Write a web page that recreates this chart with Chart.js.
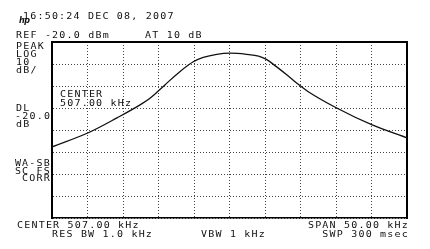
<!DOCTYPE html>
<html>
<head>
<meta charset="utf-8">
<script src="https://cdn.jsdelivr.net/npm/chart.js@4"></script>
<style>
  html, body { margin: 0; padding: 0; background: #fff; }
  #wrap { position: relative; width: 430px; height: 249px; overflow: hidden; }
  #wrap canvas { position: absolute; left: 0; top: 0; }
  .lbl {
    position: absolute; white-space: pre; color: #111;
    font-family: "DejaVu Sans Mono", monospace; font-size: 10px;
    line-height: 9px; letter-spacing: 1.2px;
    transform: scaleY(0.82); transform-origin: 0 0;
  }
  .r { text-align: right; transform-origin: 100% 0; }
  .hp { position: absolute; left: 19px; top: 16px; font: italic bold 8px "DejaVu Sans", sans-serif; color: #111; letter-spacing: -0.5px; }
</style>
</head>
<body>
<div id="wrap">
  <canvas id="sa" width="430" height="249"></canvas>
  <div class="lbl" style="left:23px;top:11.5px">16:50:24 DEC 08, 2007</div>
  <div class="hp">hp</div>
  <div class="lbl" style="left:16px;top:30.5px">REF -20.0 dBm</div>
  <div class="lbl" style="left:145px;top:30.5px">AT 10 dB</div>
  <div class="lbl" style="left:16px;top:41.5px">PEAK</div>
  <div class="lbl" style="left:16px;top:49.5px">LOG</div>
  <div class="lbl" style="left:16px;top:57.5px">10</div>
  <div class="lbl" style="left:16px;top:65.5px">dB/</div>
  <div class="lbl" style="left:60px;top:89.5px">CENTER</div>
  <div class="lbl" style="left:60px;top:98.5px">507.00 kHz</div>
  <div class="lbl" style="left:16px;top:103.5px">DL</div>
  <div class="lbl" style="left:15px;top:111.5px">-20.0</div>
  <div class="lbl" style="left:16px;top:119.5px">dB</div>
  <div class="lbl r" style="right:379px;top:158.5px">WA-SB</div>
  <div class="lbl r" style="right:379px;top:166.5px">SC FS</div>
  <div class="lbl r" style="right:379px;top:174px">CORR</div>
  <div class="lbl" style="left:17px;top:221px">CENTER 507.00 kHz</div>
  <div class="lbl" style="left:52px;top:230px">RES BW 1.0 kHz</div>
  <div class="lbl" style="left:201px;top:230px">VBW 1 kHz</div>
  <div class="lbl r" style="right:21px;top:221px">SPAN 50.00 kHz</div>
  <div class="lbl r" style="right:21px;top:230px">SWP 300 msec</div>
</div>
<script>
// trace, kHz / dBm
const freqKHz = [482, 487.35, 491.15, 494.4, 495.8, 497.9, 500.0, 501.9, 503.3, 505.2, 507.1, 509.4, 511.1, 512.2, 513.6, 515.1, 516.5, 518.1, 522.1, 527.1, 532];
const levelDbm = [-67.7, -60.9, -54.5, -48.6, -45.6, -39.5, -33.5, -29.0, -27.0, -25.6, -25.1, -25.6, -26.4, -27.9, -31.2, -35.0, -38.8, -42.6, -50, -57.7, -63.6];

const startKHz = 482, stopKHz = 532, divKHz = 5;
const refDbm = -20, bottomDbm = -100, dbPerDiv = 10;

const dotted = { color: '#444', width: 1, dash: [1, 2] };
const noTicks = { display: false };

new Chart(document.getElementById('sa'), {
    type: 'line',
    data: {
        datasets: [{
            data: freqKHz.map((f, i) => ({ x: f, y: levelDbm[i] })),
            borderColor: '#111',
            borderWidth: 1.3,
            pointRadius: 0,
            cubicInterpolationMode: 'monotone',
        }],
    },
    options: {
        responsive: false,
        animation: false,
        events: [],
        layout: { padding: { left: 52, right: 23, top: 42, bottom: 31 } },
        plugins: { legend: { display: false }, tooltip: { enabled: false } },
        scales: {
            x: {
                type: 'linear', min: startKHz, max: stopKHz,
                ticks: { display: false, stepSize: divKHz },
                grid: { color: dotted.color, lineWidth: 1, drawTicks: false },
                border: { color: '#000', width: 1.5, dash: dotted.dash },
            },
            y: {
                min: bottomDbm, max: refDbm,
                ticks: { display: false, stepSize: dbPerDiv },
                grid: { color: dotted.color, lineWidth: 1, drawTicks: false },
                border: { color: '#000', width: 2, dash: dotted.dash },
            },
            xTop: {
                type: 'linear', position: 'top', min: startKHz, max: stopKHz,
                ticks: noTicks,
                grid: { color: 'rgba(0,0,0,0)', drawTicks: false },
                border: { color: '#000', width: 2 },
            },
            yRight: {
                position: 'right', min: bottomDbm, max: refDbm,
                ticks: noTicks,
                grid: { color: 'rgba(0,0,0,0)', drawTicks: false },
                border: { color: '#000', width: 2 },
            },
        },
    },
});
</script>
</body>
</html>
